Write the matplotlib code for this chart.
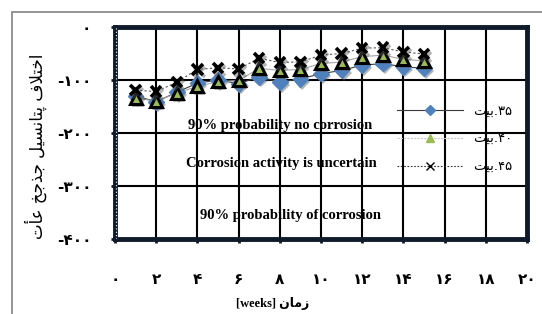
import matplotlib
matplotlib.use("Agg")
import matplotlib.pyplot as plt
import matplotlib.patheffects as pe
from matplotlib.lines import Line2D
from matplotlib.patches import Rectangle
from matplotlib.ticker import FixedLocator, FixedFormatter

# data
weeks = [1, 2, 3, 4, 5, 6, 7, 8, 9, 10, 11, 12, 13, 14, 15]
s35 = [-130, -141, -123, -106, -100, -107, -94, -104, -98, -88, -82, -72, -69, -75, -78]
s40 = [-134, -140, -125, -112, -103, -101, -78, -82, -80, -69, -66, -56, -53, -61, -64]
s45 = [-119, -122, -104, -80, -77, -79, -59, -67, -66, -53, -50, -40, -39, -47, -51]

xticks = [0, 2, 4, 6, 8, 10, 12, 14, 16, 18, 20]
xlabels = ["۰", "۲", "۴", "۶", "۸", "۱۰", "۱۲", "۱۴", "۱۶", "۱۸", "۲۰"]
yticks = [-400, -300, -200, -100, 0]
ylabels = ["-۴۰۰", "-۳۰۰", "-۲۰۰", "-۱۰۰", "۰"]

zones = ["90% probability no corrosion", "Corrosion activity is uncertain",
         "90% probability of corrosion"]
zone_x = [8.0, 8.1, 8.5]
zone_y = [-185, -257, -355]

# arabic presentation forms: isolated, final, initial, medial
FORMS = {
    'ا': ('\uFE8D', '\uFE8E', None, None),
    'أ': ('\uFE83', '\uFE84', None, None),
    'ء': ('\uFE80', None, None, None),
    'ب': ('\uFE8F', '\uFE90', '\uFE91', '\uFE92'),
    'پ': ('\uFB56', '\uFB57', '\uFB58', '\uFB59'),
    'ت': ('\uFE95', '\uFE96', '\uFE97', '\uFE98'),
    'ج': ('\uFE9D', '\uFE9E', '\uFE9F', '\uFEA0'),
    'خ': ('\uFEA5', '\uFEA6', '\uFEA7', '\uFEA8'),
    'ذ': ('\uFEAB', '\uFEAC', None, None),
    'ز': ('\uFEAF', '\uFEB0', None, None),
    'س': ('\uFEB1', '\uFEB2', '\uFEB3', '\uFEB4'),
    'ع': ('\uFEC9', '\uFECA', '\uFECB', '\uFECC'),
    'ف': ('\uFED1', '\uFED2', '\uFED3', '\uFED4'),
    'ل': ('\uFEDD', '\uFEDE', '\uFEDF', '\uFEE0'),
    'م': ('\uFEE1', '\uFEE2', '\uFEE3', '\uFEE4'),
    'ن': ('\uFEE5', '\uFEE6', '\uFEE7', '\uFEE8'),
    'ی': ('\uFEEF', '\uFEF0', '\uFEF3', '\uFEF4'),
}
LAMALEF = {'ا': ('\uFEFB', '\uFEFC'), 'أ': ('\uFEF7', '\uFEF8')}


def dual(c):
    return c in FORMS and FORMS[c][2] is not None


def joining(c):
    return c in FORMS and FORMS[c][1] is not None


def rtl(text):
    # shape and put in visual (left to right) order
    out = []
    i = 0
    while i < len(text):
        c = text[i]
        prev = text[i - 1] if i > 0 else ''
        lp = dual(prev) and joining(c)
        if c == 'ل' and i + 1 < len(text) and text[i + 1] in LAMALEF:
            out.append(LAMALEF[text[i + 1]][1 if lp else 0])
            i += 2
            continue
        if c not in FORMS:
            out.append(c)
            i += 1
            continue
        nxt = text[i + 1] if i + 1 < len(text) else ''
        ln = dual(c) and joining(nxt)
        idx = 3 if (lp and ln) else 1 if lp else 2 if ln else 0
        out.append(FORMS[c][idx])
        i += 1
    return ''.join(out[::-1])


legend_names = [rtl("بیت") + ".۳۵", rtl("بیت") + ".۴۰", rtl("بیت") + ".۴۵"]
xlabel = "[weeks] " + rtl("زمان")
ylabel = rtl("اختلاف پتانسیل جذجخ عأت")

navy = "#0f1b2b"
serif = ["Liberation Serif", "DejaVu Sans"]

fig = plt.figure(figsize=(5.42, 3.14), dpi=100)
ax = fig.add_axes([115 / 542, 1 - 239 / 314, 412 / 542, 212 / 314])

ax.plot(weeks, s35, color="#3a3a3a", lw=0.8, zorder=3)
ax.plot(weeks, s40, color="#a6a6a6", lw=0.8, zorder=3)
ax.plot(weeks, s45, color="#555555", lw=0.8, dashes=(2, 2), zorder=3)

shadow = [pe.SimplePatchShadow(offset=(1.5, -2), shadow_rgbFace="0.35", alpha=0.45), pe.Normal()]
lshadow = [pe.SimpleLineShadow(offset=(1.5, -2), shadow_color="0.35", alpha=0.45), pe.Normal()]
ax.plot(weeks, s35, ls="none", marker="D", ms=8, color="#4f81bd", zorder=4, path_effects=shadow)
ax.plot(weeks, s40, ls="none", marker="^", ms=8.5, mfc="#9bbb59", mec="black", mew=2.2,
        zorder=5, path_effects=shadow)
ax.plot(weeks, s45, ls="none", marker="x", ms=7.5, mew=2.6, color="black", zorder=6,
        path_effects=lshadow)

for txt, x, y in zip(zones, zone_x, zone_y):
    ax.text(x, y, txt, ha="center", va="center", fontsize=10.5, fontweight="bold",
            family=serif, zorder=7)

ax.set_xlim(0, 20)
ax.set_ylim(-400, 0)
ax.xaxis.set_major_locator(FixedLocator(xticks))
ax.xaxis.set_major_formatter(FixedFormatter(xlabels))
ax.yaxis.set_major_locator(FixedLocator(yticks))
ax.yaxis.set_major_formatter(FixedFormatter(ylabels))
ax.tick_params(axis="x", length=3, width=2, color=navy, pad=21, labelsize=11)
ax.tick_params(axis="y", length=3, width=2, color=navy, pad=14, labelsize=11)
for lab in ax.get_xticklabels() + ax.get_yticklabels():
    lab.set_fontweight("bold")
    lab.set_family("DejaVu Sans")

ax.grid(True, color="black", lw=1.5)
ax.set_axisbelow(True)
for sp in ax.spines.values():
    sp.set_color(navy)
    sp.set_linewidth(3.5)
ax.axvline(0.06, color="white", lw=0.8, dashes=(1, 2), zorder=3)

handles = [
    Line2D([], [], color="#3a3a3a", lw=0.8, marker="D", ms=5, mfc="#4f81bd", mec="#4f81bd"),
    Line2D([], [], color="#c8c8c8", lw=0.8, dashes=(2, 1), marker="^", ms=6,
           mfc="#9bbb59", mec="#9bbb59"),
    Line2D([], [], color="#333333", lw=0.8, dashes=(1.5, 1.5), marker="x", ms=6,
           mew=1, mec="black"),
]
ax.legend(handles, legend_names, loc="upper left", bbox_to_anchor=(0.655, 0.69),
          frameon=False, handlelength=5.0, labelspacing=1.15,
          prop={"family": "DejaVu Sans", "size": 9.5})

fig.text(273 / 542, 1 - 304 / 314, xlabel, ha="center", va="center", fontsize=9,
         fontweight="bold", family=serif)
fig.text(36 / 542, 1 - 146 / 314, ylabel, ha="center", va="center", rotation=90,
         fontsize=12, family="DejaVu Sans")

fig.add_artist(Rectangle((12 / 542, -0.2), 1.2, 1.2 - 12 / 314, transform=fig.transFigure,
                         fill=False, ec="#8c8c8c", lw=1.3))

fig.savefig("out.png", dpi=100)
